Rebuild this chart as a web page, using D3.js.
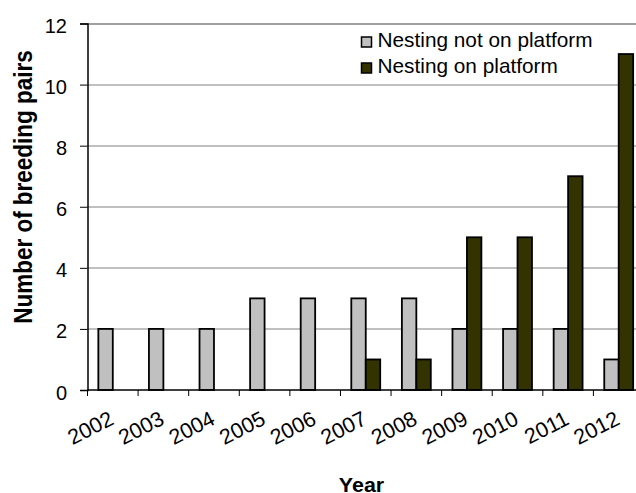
<!DOCTYPE html>
<html>
<head>
<meta charset="utf-8">
<script src="https://cdn.jsdelivr.net/npm/d3@7"></script>
<style>
  html, body { margin: 0; padding: 0; overflow: hidden; background: #fff; }
  svg { display: block; font-family: "Liberation Sans", Arial, sans-serif; }
</style>
</head>
<body>
<div id="chart"></div>
<script>
// -----------------------------
// DATA
// -----------------------------
const years = ["2002", "2003", "2004", "2005", "2006", "2007", "2008", "2009", "2010", "2011", "2012"];
const notOnPlatform = [2, 2, 2, 3, 3, 3, 3, 2, 2, 2, 1];
const onPlatform = [0, 0, 0, 0, 0, 1, 1, 5, 5, 7, 11];
const seriesNames = ["Nesting not on platform", "Nesting on platform"];
const seriesColors = ["#c0c0c0", "#333300"];
const yTicks = [0, 2, 4, 6, 8, 10, 12];

// Page size; the plot area runs a little past the right edge, like the original
const width = 636;
const height = 493;
const margin = { top: 23.5, left: 87.5 };
const innerWidth = 556.5;
const innerHeight = 366.5;

const svg = d3.select("#chart")
    .append("svg")
    .attr("width", width)
    .attr("height", height);

const g = svg.append("g")
    .attr("transform", `translate(${margin.left},${margin.top})`);

// -----------------------------
// SCALES
// -----------------------------
const x = d3.scaleBand()
    .domain(years)
    .range([0, innerWidth]);

// gap width 150% -> group takes 2 / 3.5 of the category
const groupW = x.bandwidth() * 2 / 3.5;
const x1 = d3.scaleBand()
    .domain([0, 1])
    .range([(x.bandwidth() - groupW) / 2, (x.bandwidth() + groupW) / 2]);

const y = d3.scaleLinear()
    .domain([0, 12])
    .range([innerHeight, 0]);

// -----------------------------
// GRIDLINES
// -----------------------------
g.append("g")
    .selectAll("line")
    .data(yTicks.filter(d => d > 0))
    .join("line")
    .attr("x1", 0)
    .attr("x2", innerWidth)
    .attr("y1", d => Math.round(y(d)) + 0.5)
    .attr("y2", d => Math.round(y(d)) + 0.5)
    .attr("stroke", "#808080")
    .attr("stroke-width", d => d === 12 ? 1.6 : 1);

// -----------------------------
// BARS
// -----------------------------
const rows = years.map((yr, i) => ({ year: yr, values: [notOnPlatform[i], onPlatform[i]] }));

const groups = g.selectAll(".bar-group")
    .data(rows)
    .join("g")
    .attr("class", "bar-group")
    .attr("transform", d => `translate(${x(d.year)},0)`);

groups.selectAll("rect")
    .data(d => d.values.map((v, k) => ({ k, v })).filter(e => e.v > 0))
    .join("rect")
    .attr("x", d => x1(d.k))
    .attr("width", x1.bandwidth())
    .attr("y", d => y(d.v))
    .attr("height", d => innerHeight - y(d.v))
    .attr("fill", d => seriesColors[d.k])
    .attr("stroke", "#000")
    .attr("stroke-width", 1.8);

// -----------------------------
// AXES
// -----------------------------
const yAxis = g.append("g")
    .call(d3.axisLeft(y).tickValues(yTicks).tickSize(7.5).tickPadding(13));
yAxis.select(".domain").attr("stroke", "#000").attr("stroke-width", 1.5);
yAxis.selectAll(".tick line").attr("stroke", "#000");
yAxis.selectAll("text")
    .attr("dy", "0.45em")
    .style("font-size", "20px")
    .attr("fill", "#000");

const xAxis = g.append("g")
    .attr("transform", `translate(0,${innerHeight})`);
xAxis.append("line")
    .attr("x1", 0).attr("x2", innerWidth)
    .attr("stroke", "#000").attr("stroke-width", 1.5);
xAxis.selectAll(".tk")
    .data(years)
    .join("line")
    .attr("class", "tk")
    .attr("x1", d => x(d)).attr("x2", d => x(d))
    .attr("y1", 0).attr("y2", 6)
    .attr("stroke", "#000");
xAxis.selectAll(".lbl")
    .data(years)
    .join("text")
    .attr("class", "lbl")
    .attr("text-anchor", "end")
    .attr("transform", d => `translate(${x(d) + x.bandwidth() / 2 + 2.4},33.5) rotate(-27)`)
    .style("font-size", "21.5px")
    .text(d => d);

// Axis titles
svg.append("text")
    .attr("text-anchor", "middle")
    .attr("transform", "translate(32,187) rotate(-90) scale(0.9,1)")
    .style("font-size", "25px")
    .style("font-weight", "bold")
    .text("Number of breeding pairs");

svg.append("text")
    .attr("text-anchor", "middle")
    .attr("transform", "translate(361.5,491.5) scale(1.1,1)")
    .style("font-size", "19.5px")
    .style("font-weight", "bold")
    .text("Year");

// -----------------------------
// LEGEND
// -----------------------------
const legend = svg.append("g")
    .attr("transform", "translate(361.5,37)");
const li = legend.selectAll("g")
    .data(seriesNames)
    .join("g")
    .attr("transform", (d, i) => `translate(0,${i * 26})`);
li.append("rect")
    .attr("width", 10).attr("height", 10)
    .attr("fill", (d, i) => seriesColors[i])
    .attr("stroke", "#000").attr("stroke-width", 1.5);
li.append("text")
    .attr("x", 16)
    .attr("y", 9.7)
    .style("font-size", "20.8px")
    .text(d => d);
</script>
</body>
</html>
